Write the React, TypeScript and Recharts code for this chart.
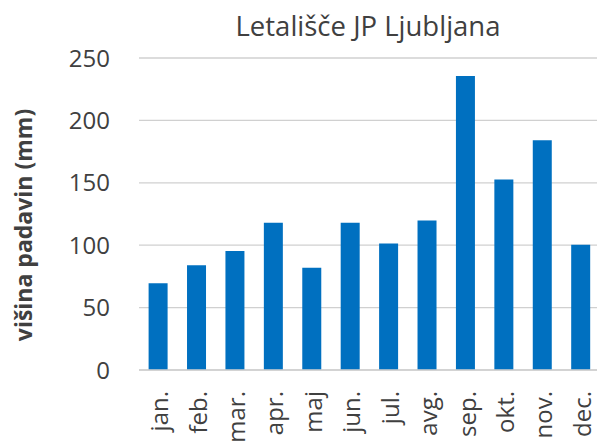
import React from "react";
import { BarChart, Bar, XAxis, YAxis, CartesianGrid } from "recharts";

const months = ["jan.", "feb.", "mar.", "apr.", "maj", "jun.", "jul.", "avg.", "sep.", "okt.", "nov.", "dec."];
const precipitation = [69.5, 84, 95.3, 118, 82, 118, 101.4, 119.8, 235.6, 152.6, 184, 100.3];
const yTicks = [0, 50, 100, 150, 200, 250];
const title = "Letališče JP Ljubljana";
const yLabel = "višina padavin (mm)";

const data = months.map((m, i) => ({ month: m, value: precipitation[i] }));

const FONT = "'Open Sans', sans-serif";
const TEXT = "#404040";

const XTick = (props: any) => {
  const { x, y, payload } = props;
  return (
    <text
      x={x}
      y={y}
      dy={10}
      transform={`rotate(-90, ${x}, ${y})`}
      textAnchor="end"
      fontFamily={FONT}
      fontSize={24}
      fill={TEXT}
    >
      {payload.value}
    </text>
  );
};

export default function App() {
  return (
    <div style={{ position: "absolute", left: 0, top: 0, width: 597, height: 441, overflow: "hidden", background: "#fff" }}>
      <BarChart
        width={600}
        height={441}
        data={data}
        margin={{ top: 58, right: 0, bottom: 0, left: 0 }}
        barCategoryGap="25%"
      >
        <text x={368} y={36} textAnchor="middle" fontFamily={FONT} fontSize={27.5} fill={TEXT}>
          {title}
        </text>
        <text
          x={32}
          y={225}
          transform="rotate(-90, 32, 225)"
          textAnchor="middle"
          fontFamily={FONT}
          fontSize={23}
          fontWeight="bold"
          fill={TEXT}
        >
          {yLabel}
        </text>
        <CartesianGrid vertical={false} stroke="#d0d0d0" strokeWidth={1.3} />
        <XAxis
          dataKey="month"
          height={71}
          tickLine={false}
          axisLine={{ stroke: "#d0d0d0", strokeWidth: 1.3 }}
          tick={<XTick />}
          tickMargin={15}
          interval={0}
        />
        <YAxis
          width={139}
          domain={[0, 250]}
          ticks={yTicks}
          axisLine={false}
          tickLine={false}
          tickMargin={23}
          tick={{ fontFamily: FONT, fontSize: 24, fill: TEXT }}
          interval={0}
        />
        <Bar dataKey="value" fill="#0070C0" isAnimationActive={false} />
      </BarChart>
    </div>
  );
}
